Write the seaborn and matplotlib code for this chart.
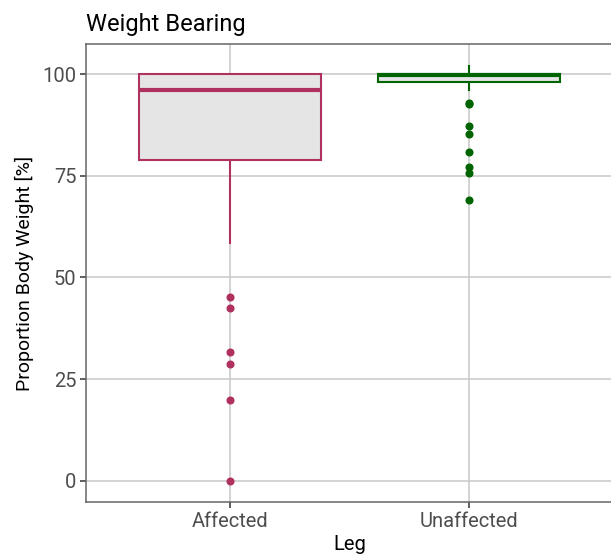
import matplotlib
matplotlib.use("Agg")
import matplotlib.pyplot as plt
import pandas as pd
import seaborn as sns

# Values (Proportion body weight, %)
affected = [0, 19.9, 28.7, 31.7, 42.5, 45.2, 58.2, 66, 72, 78.9,
            78.9, 81, 84, 86, 88, 90, 92, 94, 95, 96.1,
            96.1, 96.5, 97, 97.5, 98, 98.5, 99, 99.5, 100, 100,
            100, 100, 100, 100, 100, 100, 100, 100, 100, 100]
unaffected = [69.0, 75.6, 77.2, 80.9, 85.3, 87.2, 92.6, 93.0, 95.8, 98.0,
              98.0, 98.3, 98.6, 98.9, 99.1, 99.3, 99.5, 99.6, 99.7, 99.7,
              99.7, 99.8, 99.8, 99.9, 99.9, 100, 100, 100, 100, 100,
              100, 100, 100, 100, 100, 100, 100, 100, 100, 102.2]
legs = ["Affected", "Unaffected"]
leg_colors = ["#B03060", "#006400"]
y_ticks = [0, 25, 50, 75, 100]

df = pd.DataFrame({
    "Leg": ["Affected"] * len(affected) + ["Unaffected"] * len(unaffected),
    "pbw": affected + unaffected,
})

sns.set_style("white")
plt.rcParams["font.family"] = ["Roboto", "DejaVu Sans"]

fig = plt.figure(figsize=(6.11, 5.54), dpi=100)
ax = fig.add_axes([0.1408, 0.0939, 0.862, 0.8267])

for leg, col in zip(legs, leg_colors):
    sub = df[df["Leg"] == leg]
    sns.boxplot(data=sub, x="Leg", y="pbw", order=legs, ax=ax, width=0.76,
                whis=1.5, showcaps=False, color="#E5E5E5",
                boxprops=dict(facecolor="#E5E5E5", edgecolor=col, linewidth=1.5),
                medianprops=dict(color=col, linewidth=3),
                whiskerprops=dict(color=col, linewidth=1.5),
                flierprops=dict(marker="o", markerfacecolor=col, markeredgecolor=col,
                                markersize=4.8))

ax.set_xlim(-0.6, 1.6)
ax.set_ylim(-5.2, 107.4)
ax.set_yticks(y_ticks)
ax.set_yticklabels([str(t) for t in y_ticks])
ax.grid(True, color="#C8C8C8", linewidth=1.1)
ax.set_axisbelow(True)
for side in ["left", "bottom", "top"]:
    ax.spines[side].set_color("#666666")
    ax.spines[side].set_linewidth(1.1)
ax.spines["right"].set_visible(False)
ax.tick_params(axis="both", length=4, width=1.1, color="#333333",
               labelsize=14.5, labelcolor="#4D4D4D", pad=3, left=True, bottom=True)

ax.set_xlabel("Leg", fontsize=14.5, color="black", labelpad=3)
ax.set_ylabel("Proportion Body Weight [%]", fontsize=14, color="black", labelpad=6)
ax.set_title("Weight Bearing", loc="left", fontsize=17, color="black", pad=9)

fig.savefig("out.png", dpi=100)
